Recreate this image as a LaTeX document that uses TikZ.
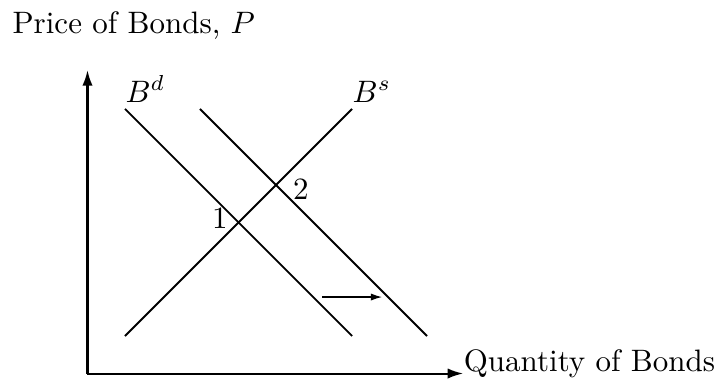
\documentclass[tikz,border=0pt]{standalone}
\usetikzlibrary{arrows.meta,positioning}

\begin{document}
\begin{tikzpicture}[>={Latex[length=5pt,width=3.3pt]},
    axis/.style={line width=0.65pt, ->},
    curve/.style={line width=0.6pt},
    shift arrow/.style={line width=0.4pt, -{Latex[length=3.6pt,width=2.3pt]}},
    curve label/.style={anchor=south west, inner sep=0pt, yshift=2pt}]
    \def\lo{0.425}   % low end of the curves
    \def\hi{3.0}     % high end of the curves
    \def\sh{0.85}    % shift of the demand curve

    \useasboundingbox (-0.992,-0.062) rectangle (7.205,4.235);

    % Axes
    \coordinate (O) at (0,0);
    \coordinate (ytop) at (0,3.44);
    \coordinate (xend) at (4.26,0);
    \draw[axis] (O) -- (ytop);
    \draw[axis] (O) -- (xend);
    \node[anchor=base west, inner sep=0pt] (ylab) at (-0.856,3.86) {Price of Bonds, $P$};
    \node[anchor=base west, inner sep=0pt, yshift=0.8pt] (xlab) at (xend) {Quantity of Bonds};

    % Demand, shifted demand and supply
    \coordinate (d1) at (\lo,\hi);
    \coordinate (d2) at (\hi,\lo);
    \coordinate (n1) at (\lo+\sh,\hi);
    \coordinate (n2) at (\hi+\sh,\lo);
    \coordinate (s1) at (\lo,\lo);
    \coordinate (s2) at (\hi,\hi);
    \draw[curve] (d1) -- (d2);
    \draw[curve] (n1) -- (n2);
    \draw[curve] (s1) -- (s2);
    \node[curve label] (bd) at (d1) {$B^d$};
    \node[curve label] (bs) at (s2) {$B^s$};

    % Equilibrium points
    \coordinate (e1) at ({(\lo+\hi)/2},{(\lo+\hi)/2});
    \coordinate (e2) at ({(\lo+\hi+\sh)/2},{(\lo+\hi+\sh)/2});
    \node[left=0pt, yshift=1.5pt] (p1) at (e1) {1};
    \node[right=2pt, yshift=-1.5pt] (p2) at (e2) {2};

    % Shift of demand
    \coordinate (a1) at (2.66,0.867);
    \coordinate (a2) at (3.34,0.867);
    \draw[shift arrow] (a1) -- (a2);
\end{tikzpicture}
\end{document}
